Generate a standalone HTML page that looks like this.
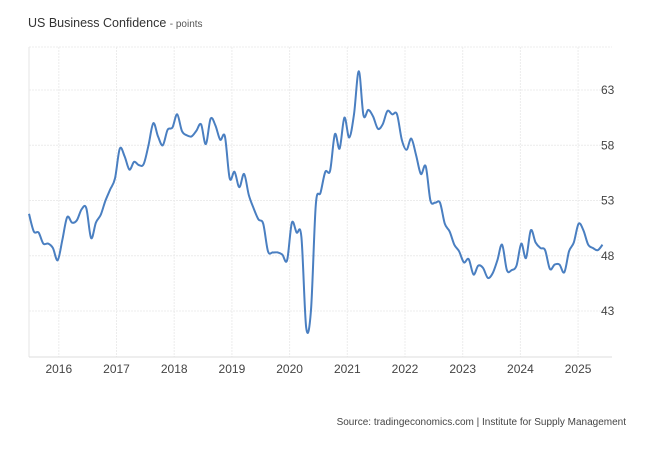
<!DOCTYPE html>
<html><head><meta charset="utf-8"><style>
body{margin:0;background:#fff;width:652px;height:446px;overflow:hidden;font-family:"Liberation Sans",sans-serif}
</style></head><body>
<svg id="s" width="652" height="446" xmlns="http://www.w3.org/2000/svg" font-family="Liberation Sans, sans-serif">
<text x="28" y="27" font-size="12.5" fill="#333">US Business Confidence <tspan font-size="10" fill="#555">- points</tspan></text>
<g id="grid" stroke="#ececec" stroke-width="1" stroke-dasharray="2,1"></g>
<line x1="29" y1="47" x2="29" y2="357" stroke="#e6e6e6"/>
<line x1="29" y1="357" x2="612" y2="357" stroke="#ddd"/>
<g id="lab" font-size="12" fill="#444"></g>
<path id="p" fill="none" stroke="#4a7fc1" stroke-width="2" stroke-linejoin="round"/>
<text x="626" y="425" font-size="10" fill="#444" text-anchor="end">Source: tradingeconomics.com | Institute for Supply Management</text>
</svg>
<script>
var d=[51.8,50.2,50.1,49.1,49.1,48.7,
47.6,49.5,51.5,51.0,51.2,52.2,52.3,49.6,51.0,51.7,53.0,54.0,
55.0,57.7,57.0,55.8,56.5,56.2,56.3,58.0,60.0,58.8,58.0,59.4,
59.6,60.8,59.3,58.9,58.8,59.3,59.9,58.1,60.4,59.8,58.5,58.8,
55.0,55.6,54.2,55.4,53.5,52.3,51.3,50.9,48.4,48.3,48.3,48.1,
47.6,51.0,50.1,49.7,41.5,43.1,52.6,53.7,55.6,55.7,59.0,57.7,60.5,
58.7,60.8,64.7,60.7,61.2,60.6,59.5,59.9,61.1,60.8,60.8,58.5,
57.6,58.6,57.1,55.4,56.1,53.0,52.8,52.8,50.9,50.2,49.0,48.4,
47.4,47.7,46.3,47.1,46.9,46.0,46.4,47.6,49.0,46.7,46.7,47.1,
49.1,47.8,50.3,49.2,48.7,48.5,46.8,47.2,47.2,46.5,48.4,49.2,
50.9,50.3,49.0,48.7,48.5,49.0];
var n=d.length,x0=29,step=(602.5-29)/(n-1);
function Y(v){return 90+(63-v)*11.05}
var pts=d.map(function(v,i){return [x0+i*step,Y(v)]});
var s="M"+pts[0][0].toFixed(1)+","+pts[0][1].toFixed(1);
for(var i=0;i<n-1;i++){var p0=pts[Math.max(i-1,0)],p1=pts[i],p2=pts[i+1],p3=pts[Math.min(i+2,n-1)];
var c1x=p1[0]+(p2[0]-p0[0])/6,c1y=p1[1]+(p2[1]-p0[1])/6,c2x=p2[0]-(p3[0]-p1[0])/6,c2y=p2[1]-(p3[1]-p1[1])/6;
s+="C"+c1x.toFixed(1)+","+c1y.toFixed(1)+" "+c2x.toFixed(1)+","+c2y.toFixed(1)+" "+p2[0].toFixed(1)+","+p2[1].toFixed(1);}
document.getElementById("p").setAttribute("d",s);
var g=document.getElementById("grid"),l=document.getElementById("lab"),ns="http://www.w3.org/2000/svg",h="";
var gl="",ll="";
[63,58,53,48,43].forEach(function(v){var y=Y(v);gl+='<line x1="29" y1="'+y+'" x2="612" y2="'+y+'"/>';ll+='<text x="601" y="'+(y+4)+'">'+v+'</text>';});
gl+='<line x1="29" y1="47" x2="612" y2="47"/>';
for(var k=0;k<10;k++){var x=58.8+k*57.7;gl+='<line x1="'+x+'" y1="47" x2="'+x+'" y2="357"/>';ll+='<text x="'+x+'" y="373" text-anchor="middle">'+(2016+k)+'</text>';}
g.innerHTML=gl;l.innerHTML=ll;
</script>
</body></html>
